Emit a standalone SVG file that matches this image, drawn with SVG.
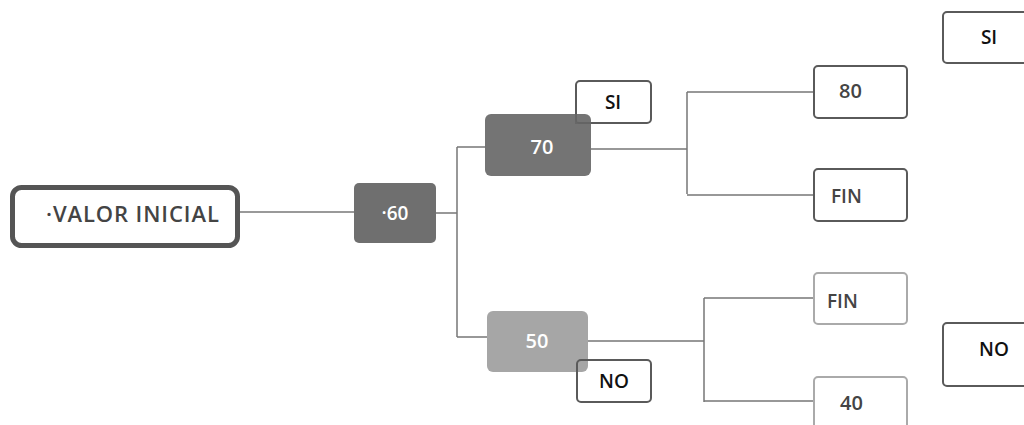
<svg xmlns="http://www.w3.org/2000/svg" width="1024" height="425" viewBox="0 0 1024 425">
<style>
text{font-family:"Open Sans","Liberation Sans",sans-serif;font-weight:600}
.w{fill:#fff}
.d{fill:#444}
.k{fill:#111}
.box{fill:#fff;stroke:#5a5a5a;stroke-width:2}
.boxl{fill:#fff;stroke:#aaa;stroke-width:2}
.c{fill:none;stroke:#777;stroke-width:1.5}
</style>
<rect width="1024" height="425" fill="#fff"/>
<g id="connectors">
<path class="c" d="M240 212 H355"/>
<path class="c" d="M436 213 H457 M457 147 V337 M457 147 H486 M457 337 H488"/>
<path class="c" d="M591 149 H687 M687 92 V194 M687 92 H814 M687 195 H814"/>
<path class="c" d="M588 341 H704 M704 298 V402 M704 298 H814 M704 401 H814"/>
</g>
<g id="n-valor">
<rect x="12.5" y="187.5" width="225" height="58" rx="9" fill="#fff" stroke="#555" stroke-width="5"/>
<text x="46" y="222" font-size="22" letter-spacing="0.9" class="d">·VALOR INICIAL</text>
</g>
<g id="n-60">
<rect x="354" y="183" width="82" height="60" rx="5" fill="#6f6f6f"/>
<text x="395" y="220" font-size="19" class="w" text-anchor="middle">·60</text>
</g>
<g id="n-si1">
<rect x="576" y="81" width="75" height="42" rx="4" class="box"/>
<text x="613" y="109" font-size="19" class="k" text-anchor="middle">SI</text>
</g>
<g id="n-70">
<rect x="485" y="114" width="106" height="62" rx="6" fill="#707070" fill-opacity="0.97"/>
<text x="542" y="154" font-size="20" class="w" text-anchor="middle">70</text>
<path d="M576 114 V123 H591" fill="none" stroke="#5a5a5a" stroke-width="2" opacity="0.5"/>
</g>
<g id="n-50">
<rect x="487" y="311" width="101" height="61" rx="6" fill="#a6a6a6"/>
<text x="537" y="348" font-size="20" class="w" text-anchor="middle">50</text>
</g>
<g id="n-no1">
<path d="M588 361 H651 V401 H578 V372 H588 Z" fill="#fff" stroke="none"/>
<rect x="577" y="360" width="74" height="42" rx="4" fill="none" stroke="#5a5a5a" stroke-width="2"/>
<text x="614" y="388" font-size="19" class="k" text-anchor="middle">NO</text>
</g>
<g id="n-80">
<rect x="814" y="66" width="93" height="52" rx="4" class="box"/>
<text x="839" y="98" font-size="20" class="d">80</text>
</g>
<g id="n-fin1">
<rect x="814" y="169" width="93" height="52" rx="4" class="box"/>
<text x="831" y="203" font-size="19" class="d">FIN</text>
</g>
<g id="n-fin2">
<rect x="814" y="273" width="93" height="51" rx="4" class="boxl"/>
<text x="827" y="308" font-size="19" class="d">FIN</text>
</g>
<g id="n-40">
<rect x="814" y="377" width="93" height="60" rx="4" class="boxl"/>
<text x="840" y="410" font-size="20" class="d">40</text>
</g>
<g id="n-si2">
<rect x="943" y="12" width="90" height="51" rx="4" class="box"/>
<text x="989" y="44" font-size="19" class="k" text-anchor="middle">SI</text>
</g>
<g id="n-no2">
<rect x="943" y="323" width="90" height="63" rx="4" class="box"/>
<text x="994" y="356" font-size="19" class="k" text-anchor="middle">NO</text>
</g>
</svg>
